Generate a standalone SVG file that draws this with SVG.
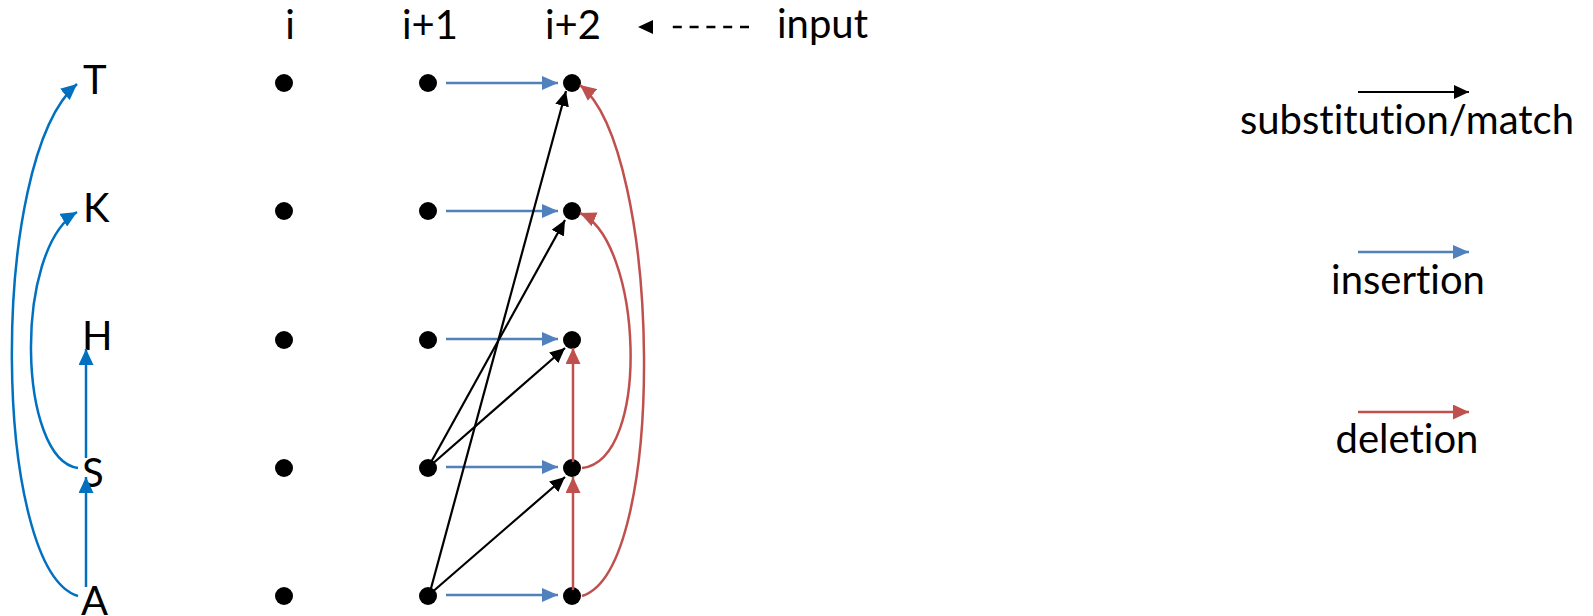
<svg xmlns="http://www.w3.org/2000/svg" width="1593" height="616" viewBox="0 0 1593 616">
<style>
  text { font-family: Lato, "Liberation Sans", sans-serif; font-size: 40px; fill: #000; font-variant-ligatures: none; font-feature-settings: "liga" 0; }
  .dot { fill: #000; }
  .blue { stroke: #4F81BD; stroke-width: 2.5; fill: none; }
  .dblue { stroke: #0070C0; stroke-width: 2.5; fill: none; }
  .red { stroke: #C0504D; stroke-width: 2.5; fill: none; }
  .black { stroke: #000; stroke-width: 2.2; fill: none; }
</style>
<defs>
  <marker id="mBlue" markerUnits="userSpaceOnUse" viewBox="0 0 16 14" refX="16" refY="7" markerWidth="16" markerHeight="14" orient="auto"><path d="M0,0 L16,7 L0,14 z" fill="#4F81BD"/></marker>
  <marker id="mDBlue" markerUnits="userSpaceOnUse" viewBox="0 0 16 15" refX="16" refY="7.5" markerWidth="16" markerHeight="15" orient="auto"><path d="M0,0 L16,7.5 L0,15 z" fill="#0070C0"/></marker>
  <marker id="mRed" markerUnits="userSpaceOnUse" viewBox="0 0 16 15" refX="16" refY="7.5" markerWidth="16" markerHeight="15" orient="auto"><path d="M0,0 L16,7.5 L0,15 z" fill="#C0504D"/></marker>
  <marker id="mBlack" markerUnits="userSpaceOnUse" viewBox="0 0 15 14" refX="15" refY="7" markerWidth="15" markerHeight="14" orient="auto"><path d="M0,0 L15,7 L0,14 z" fill="#000"/></marker>
</defs>

<g id="headers">
  <text x="290" y="39" text-anchor="middle">i</text>
  <text x="430" y="39" text-anchor="middle">i+1</text>
  <text x="573" y="39" text-anchor="middle">i+2</text>
  <text x="777" y="38">input</text>
  <g id="input-arrow">
    <line x1="749" y1="27" x2="665" y2="27" stroke="#000" stroke-width="2.6" stroke-dasharray="9,7.8"/>
    <polygon points="638,27 653,20 653,34" fill="#000"/>
  </g>
</g>

<g id="letters">
  <text id="T" x="83" y="94">T</text>
  <text id="K" x="83" y="222">K</text>
  <text id="H" x="82" y="350">H</text>
  <text id="S" x="82" y="487">S</text>
  <text id="A" x="81" y="615">A</text>
</g>

<g id="dots">
  <g id="col-i">
    <circle class="dot" cx="284" cy="83" r="9"/>
    <circle class="dot" cx="284" cy="211" r="9"/>
    <circle class="dot" cx="284" cy="340" r="9"/>
    <circle class="dot" cx="284" cy="468" r="9"/>
    <circle class="dot" cx="284" cy="596" r="9"/>
  </g>
  <g id="col-i1">
    <circle class="dot" cx="428" cy="83" r="9"/>
    <circle class="dot" cx="428" cy="211" r="9"/>
    <circle class="dot" cx="428" cy="340" r="9"/>
    <circle class="dot" cx="428" cy="468" r="9"/>
    <circle class="dot" cx="428" cy="596" r="9"/>
  </g>
  <g id="col-i2">
    <circle class="dot" cx="572" cy="83" r="9"/>
    <circle class="dot" cx="572" cy="211" r="9"/>
    <circle class="dot" cx="572" cy="340" r="9"/>
    <circle class="dot" cx="572" cy="468" r="9"/>
    <circle class="dot" cx="572" cy="596" r="9"/>
  </g>
</g>

<g id="connectors">
  <!-- left blue -->
  <line class="dblue" x1="86" y1="587" x2="86" y2="477" marker-end="url(#mDBlue)"/>
  <line class="dblue" x1="86" y1="458" x2="86" y2="349" marker-end="url(#mDBlue)"/>
  <path class="dblue" d="M78,468 C18,460 13,250 77,212" marker-end="url(#mDBlue)"/>
  <path class="dblue" d="M78,596 C-8,570 -12,160 77,84" marker-end="url(#mDBlue)"/>
  <!-- insertion horizontals -->
  <line class="blue" x1="446" y1="83" x2="558" y2="83" marker-end="url(#mBlue)"/>
  <line class="blue" x1="446" y1="211" x2="558" y2="211" marker-end="url(#mBlue)"/>
  <line class="blue" x1="446" y1="339" x2="558" y2="339" marker-end="url(#mBlue)"/>
  <line class="blue" x1="446" y1="467" x2="558" y2="467" marker-end="url(#mBlue)"/>
  <line class="blue" x1="446" y1="595" x2="558" y2="595" marker-end="url(#mBlue)"/>
  <!-- substitution -->
  <line class="black" x1="430" y1="466" x2="565" y2="348" marker-end="url(#mBlack)"/>
  <line class="black" x1="430" y1="464" x2="565" y2="220" marker-end="url(#mBlack)"/>
  <line class="black" x1="430" y1="594" x2="565" y2="477" marker-end="url(#mBlack)"/>
  <line class="black" x1="430" y1="592" x2="566" y2="91" marker-end="url(#mBlack)"/>
  <!-- deletion -->
  <line class="red" x1="573" y1="590" x2="573" y2="477" marker-end="url(#mRed)"/>
  <line class="red" x1="573" y1="462" x2="573" y2="348" marker-end="url(#mRed)"/>
  <path class="red" d="M582,468 C652,460 642,240 580,213" marker-end="url(#mRed)"/>
  <path class="red" d="M582,596 C668,570 662,150 580,85" marker-end="url(#mRed)"/>
</g>

<g id="legend">
  <g id="legend-sub">
    <line class="black" x1="1358" y1="92" x2="1469" y2="92" marker-end="url(#mBlack)"/>
    <text x="1407" y="134" text-anchor="middle">substitution/match</text>
  </g>
  <g id="legend-ins">
    <line class="blue" x1="1358" y1="252" x2="1469" y2="252" marker-end="url(#mBlue)"/>
    <text x="1408" y="294" text-anchor="middle">insertion</text>
  </g>
  <g id="legend-del">
    <line class="red" x1="1358" y1="412" x2="1469" y2="412" marker-end="url(#mRed)"/>
    <text x="1407" y="453" text-anchor="middle">deletion</text>
  </g>
</g>
</svg>
